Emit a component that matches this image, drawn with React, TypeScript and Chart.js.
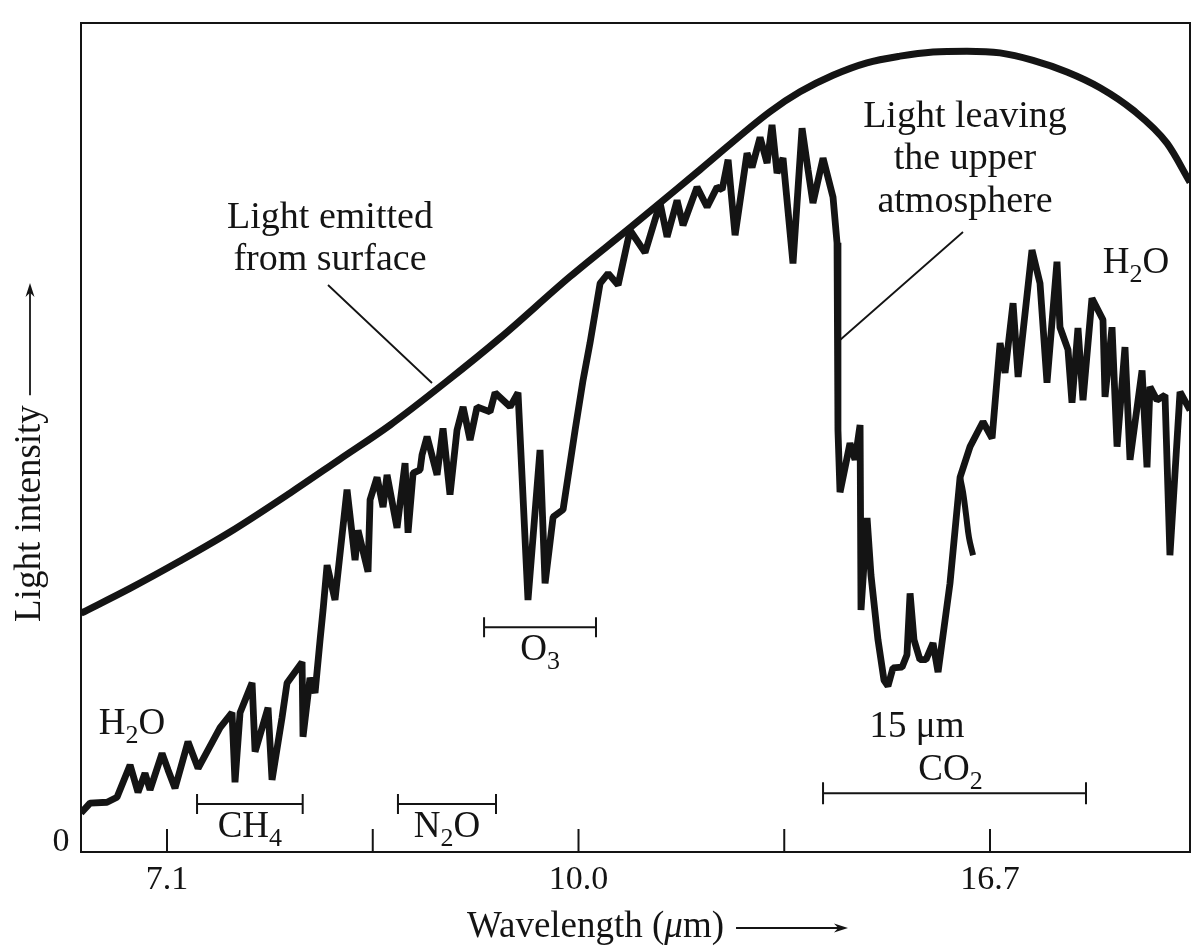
import React, { useEffect, useRef } from "react";
import { Chart, registerables } from "chart.js";

Chart.register(...registerables);

// x values are wavenumbers (cm^-1); the axis is labelled in wavelength (µm)
const planckWavenumber = [1483.6, 1436.0, 1387.4, 1338.8, 1280.4, 1231.8, 1183.2, 1127.8, 1076.3, 1008.3, 949.9, 881.9, 813.9, 784.7, 752.6, 719.6, 687.5, 655.4, 622.4, 590.3, 558.2, 525.2, 493.1, 461.0, 428.0, 405.6];
const planckIntensity = [28.8, 31.8, 35.1, 38.6, 43.3, 47.4, 51.5, 56.8, 62.0, 69.4, 75.3, 82.3, 89.3, 91.7, 93.7, 95.2, 96.0, 96.5, 96.6, 96.4, 95.5, 94.1, 92.2, 89.5, 85.5, 80.8];

const spectrumWavenumber = [
  1483.6, 1474.8, 1458.3, 1448.6, 1435.9, 1428.2, 1421.4, 1416.5, 1404.8, 1399.0,
  1392.2, 1379.6, 1369.8, 1348.4, 1336.8, 1333.9, 1329.0, 1317.3, 1314.4, 1301.8,
  1297.9, 1288.2, 1283.3, 1268.7, 1267.8, 1261.0, 1256.1, 1251.2, 1248.3, 1244.4,
  1236.7, 1225.0, 1217.2, 1214.3, 1204.6, 1202.6, 1195.8, 1190.0, 1186.1, 1176.4,
  1168.6, 1165.7, 1160.8, 1154.0, 1152.1, 1147.2, 1137.5, 1131.7, 1124.9, 1118.1,
  1112.2, 1105.4, 1098.6, 1086.0, 1081.1, 1066.5, 1058.8, 1049.1, 1037.4, 1032.5,
  1024.7, 1015.0, 1003.3, 995.6, 988.8, 979.0, 971.2, 961.5, 949.9, 935.3,
  920.7, 913.9, 904.2, 898.4, 884.8, 875.0, 865.3, 860.4, 854.6, 847.8,
  836.2, 831.3, 823.5, 816.7, 811.9, 807.0, 801.2, 791.5, 782.7, 776.9,
  772.1, 762.3, 752.6, 748.7, 747.8, 745.8, 736.1, 731.2, 726.3, 725.4,
  719.5, 715.7, 708.9, 703.0, 699.2, 694.3, 685.5, 680.7, 677.7, 673.9,
  668.1, 662.2, 655.4, 650.5, 638.9, 629.1, 619.4, 606.8, 598.0, 590.2,
  585.4, 577.6, 572.7, 559.2, 551.4, 544.6, 534.9, 532.0, 524.2, 520.3,
  514.5, 509.6, 500.9, 490.2, 488.2, 481.4, 476.5, 468.8, 463.9, 452.2,
  447.4, 444.5, 437.7, 429.9, 425.1, 415.3, 405.6,
];
const spectrumIntensity = [
  4.7, 5.9, 6.0, 6.6, 10.5, 7.2, 9.5, 7.5, 11.9, 9.9,
  7.7, 13.3, 10.1, 15.0, 16.8, 8.4, 16.8, 20.4, 12.1, 17.4,
  8.7, 16.2, 20.4, 22.9, 13.9, 21.0, 19.2, 25.6, 29.2, 34.6,
  30.4, 43.7, 35.2, 38.8, 33.8, 42.5, 45.2, 41.6, 45.5, 39.1,
  46.9, 38.5, 45.7, 46.1, 47.9, 50.1, 45.5, 51.1, 43.1, 50.9,
  53.7, 49.7, 53.7, 53.1, 55.4, 53.7, 55.4, 30.4, 48.5, 32.4,
  40.4, 41.3, 50.9, 56.9, 61.4, 68.6, 69.8, 68.4, 75.0, 72.3,
  78.3, 74.2, 78.6, 75.6, 80.2, 77.8, 80.2, 79.9, 83.5, 74.4,
  84.3, 82.6, 86.2, 83.1, 87.7, 81.9, 83.7, 71.0, 87.3, 82.3,
  78.3, 83.7, 79.0, 73.5, 50.9, 43.4, 49.3, 47.3, 51.5, 29.2,
  40.3, 33.4, 25.6, 20.7, 20.0, 22.2, 22.3, 23.8, 31.2, 25.6,
  23.2, 23.2, 25.2, 21.7, 32.4, 45.2, 48.9, 51.9, 49.9, 61.4,
  57.8, 66.2, 57.3, 72.6, 68.6, 56.6, 71.2, 63.3, 60.6, 54.2,
  63.2, 54.5, 66.8, 64.2, 54.9, 63.3, 48.9, 60.9, 47.3, 58.1,
  46.4, 56.1, 54.5, 55.1, 35.8, 55.5, 53.3,
];

// short hanging stroke at the right flank of the CO2 trough
const stubWavenumber = [629.1, 626.2, 623.3, 620.4, 616.5];
const stubIntensity = [45.2, 43.4, 40.7, 37.9, 35.8];

const tickWavenumbers = [1400, 1200, 1000, 800, 600];
const tickLabels = ["7.1", "", "10.0", "", "16.7"];

const bandNames = ["CH4", "N2O", "O3", "CO2"];
const bandFrom = [1370.8, 1175.5, 1091.8, 762.3];
const bandTo = [1268.1, 1080.2, 983.0, 506.7];
const bandLevel = [5.8, 5.8, 27.1, 7.1];
const bandLabelBelow = [true, true, true, false];

const FONT = '"Liberation Serif", "Times New Roman", serif';
const INK = "#141414";

type Part = { t: string; sub?: boolean; italic?: boolean };

function chem(s: string): Part[] {
  return s.split("").map((c) => ({ t: c, sub: /\d/.test(c) }));
}

function drawRich(
  ctx: CanvasRenderingContext2D,
  parts: Part[],
  x: number,
  baseline: number,
  size: number,
  align: "center" | "left" = "center"
) {
  const fonts = parts.map(
    (p) => `${p.italic ? "italic " : ""}${p.sub ? Math.round(size * 0.7) : size}px ${FONT}`
  );
  const widths = parts.map((p, i) => {
    ctx.font = fonts[i];
    return ctx.measureText(p.t).width;
  });
  const total = widths.reduce((a, b) => a + b, 0);
  let cur = align === "center" ? x - total / 2 : x;
  ctx.textAlign = "left";
  ctx.textBaseline = "alphabetic";
  parts.forEach((p, i) => {
    ctx.font = fonts[i];
    ctx.fillText(p.t, cur, baseline + (p.sub ? size * 0.24 : 0));
    cur += widths[i];
  });
  return total;
}

function arrow(ctx: CanvasRenderingContext2D, x1: number, y1: number, x2: number, y2: number) {
  const ang = Math.atan2(y2 - y1, x2 - x1);
  const len = 14;
  const half = 4.5;
  ctx.beginPath();
  ctx.moveTo(x1, y1);
  ctx.lineTo(x2 - Math.cos(ang) * len * 0.6, y2 - Math.sin(ang) * len * 0.6);
  ctx.lineWidth = 1.8;
  ctx.stroke();
  ctx.beginPath();
  ctx.moveTo(x2, y2);
  ctx.lineTo(
    x2 - Math.cos(ang) * len - Math.sin(ang) * half,
    y2 - Math.sin(ang) * len + Math.cos(ang) * half
  );
  ctx.lineTo(x2 - Math.cos(ang) * len * 0.7, y2 - Math.sin(ang) * len * 0.7);
  ctx.lineTo(
    x2 - Math.cos(ang) * len + Math.sin(ang) * half,
    y2 - Math.sin(ang) * len - Math.cos(ang) * half
  );
  ctx.closePath();
  ctx.fill();
}

const decorPlugin = {
  id: "decor",
  beforeDraw(chart: any) {
    const { ctx, width, height } = chart;
    ctx.save();
    ctx.fillStyle = "#ffffff";
    ctx.fillRect(0, 0, width, height);
    ctx.restore();
  },
  afterDraw(chart: any) {
    const { ctx, chartArea } = chart;
    const xs = chart.scales.x;
    const ys = chart.scales.y;
    ctx.save();
    ctx.strokeStyle = INK;
    ctx.fillStyle = INK;
    ctx.lineCap = "butt";

    // frame
    ctx.lineWidth = 2;
    ctx.strokeRect(chartArea.left, chartArea.top, chartArea.right - chartArea.left, chartArea.bottom - chartArea.top);

    // inward tick marks and labels
    const y0 = ys.getPixelForValue(0);
    xs.ticks.forEach((t: any) => {
      const px = xs.getPixelForValue(t.value);
      ctx.beginPath();
      ctx.moveTo(px, y0);
      ctx.lineTo(px, y0 - 23);
      ctx.lineWidth = 2;
      ctx.stroke();
      const idx = tickWavenumbers.indexOf(t.value);
      const lab = idx >= 0 ? tickLabels[idx] : "";
      if (lab) drawRich(ctx, [{ t: lab }], px, y0 + 37, 34);
    });
    drawRich(ctx, [{ t: "0" }], chartArea.left - 20, y0 - 1, 34);

    // band brackets
    bandNames.forEach((name, i) => {
      const a = xs.getPixelForValue(bandFrom[i]);
      const b = xs.getPixelForValue(bandTo[i]);
      const y = ys.getPixelForValue(bandLevel[i]);
      const h = i === 3 ? 11 : 10;
      ctx.lineWidth = 2;
      ctx.beginPath();
      ctx.moveTo(a, y);
      ctx.lineTo(b, y);
      ctx.moveTo(a, y - h);
      ctx.lineTo(a, y + h);
      ctx.moveTo(b, y - h);
      ctx.lineTo(b, y + h);
      ctx.stroke();
      const cx = (a + b) / 2;
      if (bandLabelBelow[i]) drawRich(ctx, chem(name), cx, y + 33, 37);
      else drawRich(ctx, chem(name), cx - 4, y - 13, 37);
    });

    // annotations
    drawRich(ctx, [{ t: "15 μm" }], 917, 737, 37);
    drawRich(ctx, chem("H2O"), 132, 734, 37);
    drawRich(ctx, chem("H2O"), 1136, 273, 37);
    drawRich(ctx, [{ t: "Light emitted" }], 330, 228, 38);
    drawRich(ctx, [{ t: "from surface" }], 330, 270, 38);
    drawRich(ctx, [{ t: "Light leaving" }], 965, 127, 38);
    drawRich(ctx, [{ t: "the upper" }], 965, 169, 38);
    drawRich(ctx, [{ t: "atmosphere" }], 965, 212, 38);

    // pointer lines
    ctx.lineWidth = 1.8;
    ctx.beginPath();
    ctx.moveTo(328, 285);
    ctx.lineTo(432, 383);
    ctx.moveTo(963, 232);
    ctx.lineTo(840, 340);
    ctx.stroke();

    // x axis title
    const w = drawRich(
      ctx,
      [{ t: "Wavelength (" }, { t: "μ", italic: true }, { t: "m)" }],
      467,
      937,
      37,
      "left"
    );
    arrow(ctx, 467 + w + 12, 928, 848, 928);

    // y axis title
    ctx.save();
    ctx.translate(40, 622);
    ctx.rotate(-Math.PI / 2);
    const wy = drawRich(ctx, [{ t: "Light intensity" }], 0, 0, 37, "left");
    arrow(ctx, wy + 10, -10, 339, -10);
    ctx.restore();

    ctx.restore();
  },
};

export default function App() {
  const ref = useRef<HTMLCanvasElement>(null);
  useEffect(() => {
    document.body.style.margin = "0";
    const canvas = ref.current!;
    const chart = new Chart(canvas, {
      type: "line",
      data: {
        datasets: [
          {
            label: "Light emitted from surface",
            data: planckWavenumber.map((x, i) => ({ x, y: planckIntensity[i] })),
            borderColor: INK,
            borderWidth: 7,
            pointRadius: 0,
            cubicInterpolationMode: "monotone",
            fill: false,
            borderJoinStyle: "round",
          },
          {
            label: "Light leaving the upper atmosphere",
            data: spectrumWavenumber.map((x, i) => ({ x, y: spectrumIntensity[i] })),
            borderColor: INK,
            borderWidth: 6.8,
            pointRadius: 0,
            tension: 0,
            fill: false,
            borderJoinStyle: "bevel",
          },
          {
            label: "stub",
            data: stubWavenumber.map((x, i) => ({ x, y: stubIntensity[i] })),
            borderColor: INK,
            borderWidth: 6,
            pointRadius: 0,
            tension: 0.4,
            fill: false,
          },
        ],
      } as any,
      options: {
        animation: false,
        responsive: false,
        devicePixelRatio: 1,
        layout: { padding: { top: 23, right: 4, left: 0, bottom: 0 } },
        plugins: { legend: { display: false }, tooltip: { enabled: false } },
        scales: {
          x: {
            type: "linear",
            reverse: true,
            min: 405.6,
            max: 1483.6,
            grid: { display: false },
            border: { display: false },
            ticks: { display: false },
            afterBuildTicks: (s: any) => {
              s.ticks = tickWavenumbers.map((v) => ({ value: v }));
            },
            afterFit: (s: any) => {
              s.height = 100;
            },
          },
          y: {
            type: "linear",
            min: 0,
            max: 100,
            grid: { display: false },
            border: { display: false },
            ticks: { display: false },
            afterFit: (s: any) => {
              s.width = 81;
            },
          },
        },
      } as any,
      plugins: [decorPlugin],
    });
    return () => chart.destroy();
  }, []);
  return <canvas ref={ref} width={1194} height={952} style={{ display: "block" }} />;
}
